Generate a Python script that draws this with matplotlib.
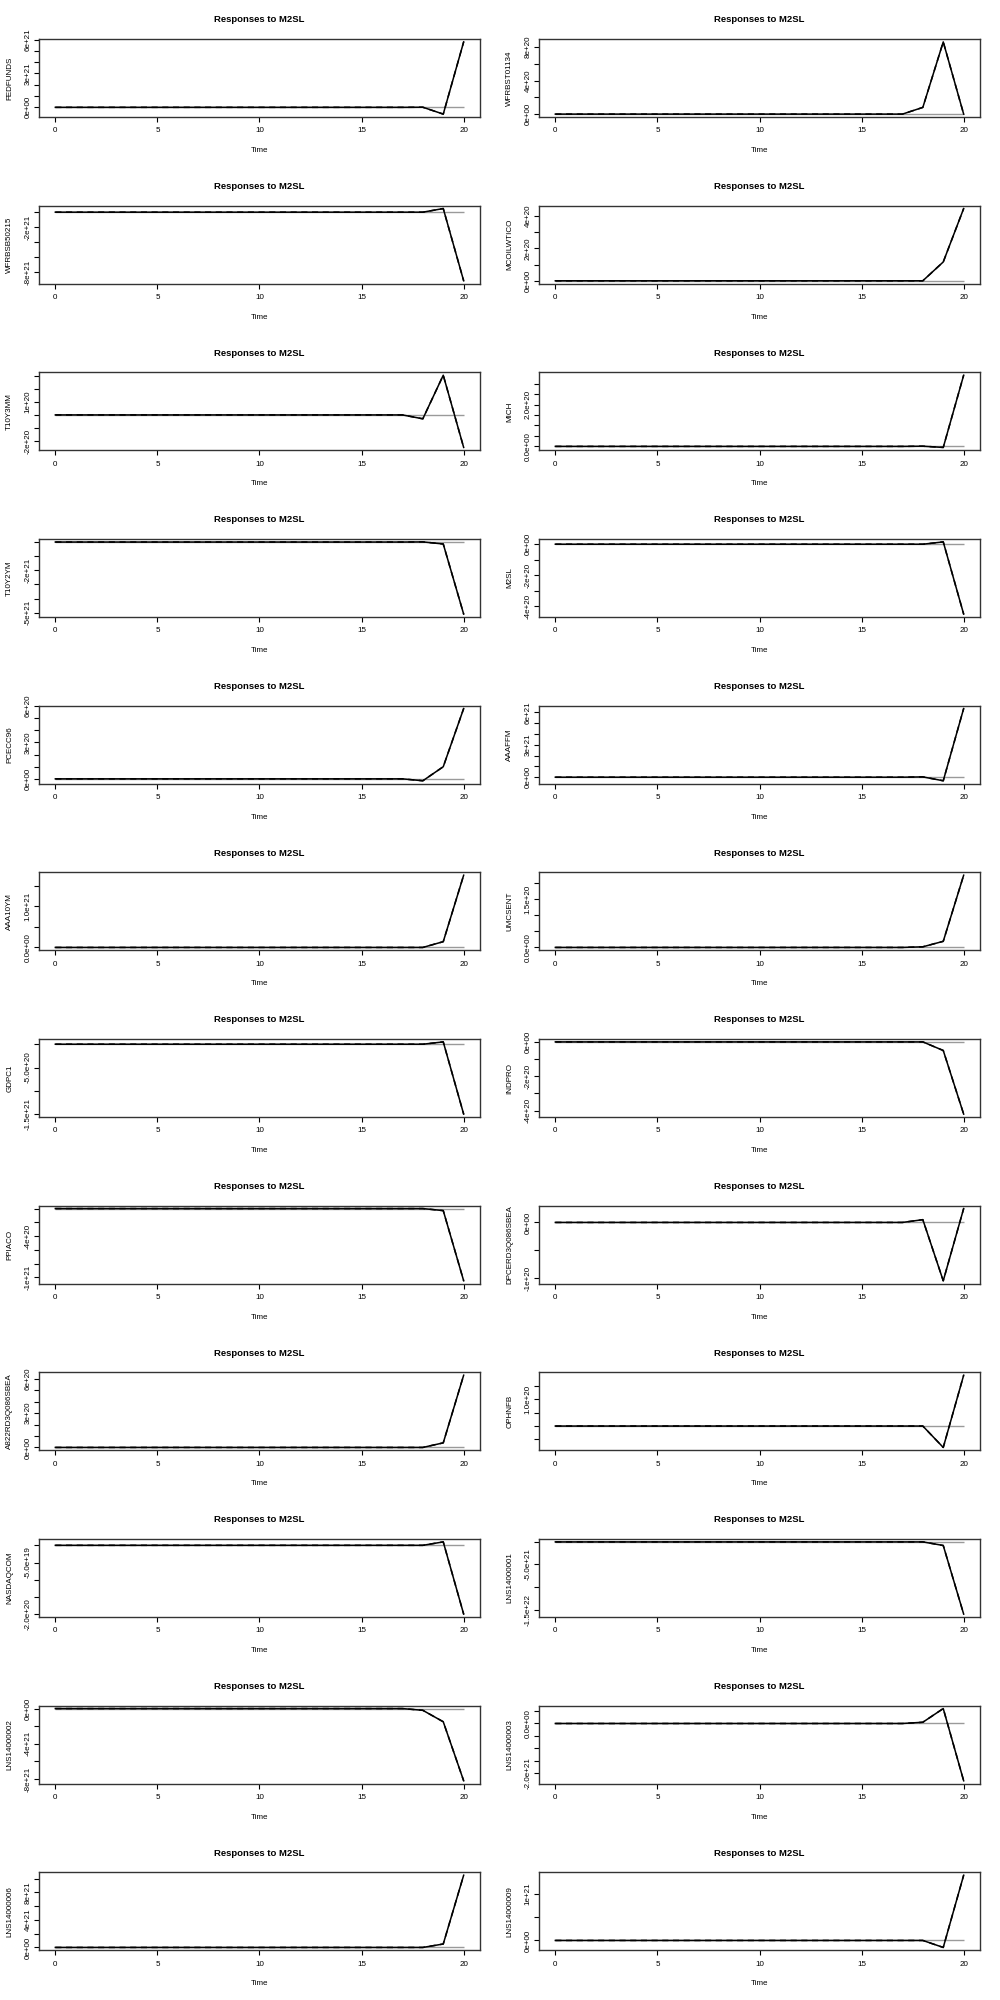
import matplotlib
matplotlib.use('Agg')
import matplotlib.pyplot as plt

plt.rcParams['font.family'] = ['Liberation Sans', 'DejaVu Sans']

# impulse responses to M2SL, horizon 0..20 (values in units of 1e20)
time = list(range(21))
FEDFUNDS = [0, 0, 0, 0, 0, 0, 0, 0, 0, 0, 0, 0, 0, 0, 0, 0, 0, 0, 0.1, -6.0, 58.0]
WFRBST01134 = [0, 0, 0, 0, 0, 0, 0, 0, 0, 0, 0, 0, 0, 0, 0, 0, 0, 0, 0.8, 8.6, 0.0]
WFRBSB50215 = [0, 0, 0, 0, 0, 0, 0, 0, 0, 0, 0, 0, 0, 0, 0, 0, 0, 0, 0.0, 4.8, -91.0]
MCOILWTICO = [0, 0, 0, 0, 0, 0, 0, 0, 0, 0, 0, 0, 0, 0, 0, 0, 0, 0, 0.0, 1.16, 4.45]
T10Y3MM = [0, 0, 0, 0, 0, 0, 0, 0, 0, 0, 0, 0, 0, 0, 0, 0, 0, 0, -0.3, 3.05, -2.5]
MICH = [0, 0, 0, 0, 0, 0, 0, 0, 0, 0, 0, 0, 0, 0, 0, 0, 0, 0, 0.01, -0.05, 3.4]
T10Y2YM = [0, 0, 0, 0, 0, 0, 0, 0, 0, 0, 0, 0, 0, 0, 0, 0, 0, 0, 0.1, -1.4, -51.0]
M2SL = [0, 0, 0, 0, 0, 0, 0, 0, 0, 0, 0, 0, 0, 0, 0, 0, 0, 0, 0.0, 0.15, -4.5]
PCECC96 = [0, 0, 0, 0, 0, 0, 0, 0, 0, 0, 0, 0, 0, 0, 0, 0, 0, 0, -0.16, 1.0, 5.8]
AAAFFM = [0, 0, 0, 0, 0, 0, 0, 0, 0, 0, 0, 0, 0, 0, 0, 0, 0, 0, 0.3, -3.3, 63.5]
AAA10YM = [0, 0, 0, 0, 0, 0, 0, 0, 0, 0, 0, 0, 0, 0, 0, 0, 0, 0, 0.0, 1.4, 17.5]
UMCSENT = [0, 0, 0, 0, 0, 0, 0, 0, 0, 0, 0, 0, 0, 0, 0, 0, 0, 0, 0.02, 0.19, 2.24]
GDPC1 = [0, 0, 0, 0, 0, 0, 0, 0, 0, 0, 0, 0, 0, 0, 0, 0, 0, 0, 0.0, 0.5, -15.0]
INDPRO = [0, 0, 0, 0, 0, 0, 0, 0, 0, 0, 0, 0, 0, 0, 0, 0, 0, 0, 0.0, -0.5, -4.2]
PPIACO = [0, 0, 0, 0, 0, 0, 0, 0, 0, 0, 0, 0, 0, 0, 0, 0, 0, 0, 0.0, -0.3, -10.5]
DPCERD3Q086SBEA = [0, 0, 0, 0, 0, 0, 0, 0, 0, 0, 0, 0, 0, 0, 0, 0, 0, 0, 0.05, -1.05, 0.25]
A822RD3Q086SBEA = [0, 0, 0, 0, 0, 0, 0, 0, 0, 0, 0, 0, 0, 0, 0, 0, 0, 0, 0.0, 0.4, 6.3]
OPHNFB = [0, 0, 0, 0, 0, 0, 0, 0, 0, 0, 0, 0, 0, 0, 0, 0, 0, 0, 0.0, -0.8, 1.9]
NASDAQCOM = [0, 0, 0, 0, 0, 0, 0, 0, 0, 0, 0, 0, 0, 0, 0, 0, 0, 0, 0.0, 0.1, -2.0]
LNS14000001 = [0, 0, 0, 0, 0, 0, 0, 0, 0, 0, 0, 0, 0, 0, 0, 0, 0, 0, 0.0, -8.0, -160.0]
LNS14000002 = [0, 0, 0, 0, 0, 0, 0, 0, 0, 0, 0, 0, 0, 0, 0, 0, 0, 0, -2.0, -15.0, -82.0]
LNS14000003 = [0, 0, 0, 0, 0, 0, 0, 0, 0, 0, 0, 0, 0, 0, 0, 0, 0, 0, 0.5, 6.0, -23.0]
LNS14000006 = [0, 0, 0, 0, 0, 0, 0, 0, 0, 0, 0, 0, 0, 0, 0, 0, 0, 0, 0.0, 5.0, 105.0]
LNS14000009 = [0, 0, 0, 0, 0, 0, 0, 0, 0, 0, 0, 0, 0, 0, 0, 0, 0, 0, 0.0, -1.5, 14.0]

names = ['FEDFUNDS', 'WFRBST01134', 'WFRBSB50215', 'MCOILWTICO', 'T10Y3MM', 'MICH',
         'T10Y2YM', 'M2SL', 'PCECC96', 'AAAFFM', 'AAA10YM', 'UMCSENT',
         'GDPC1', 'INDPRO', 'PPIACO', 'DPCERD3Q086SBEA', 'A822RD3Q086SBEA', 'OPHNFB',
         'NASDAQCOM', 'LNS14000001', 'LNS14000002', 'LNS14000003', 'LNS14000006', 'LNS14000009']
series = [FEDFUNDS, WFRBST01134, WFRBSB50215, MCOILWTICO, T10Y3MM, MICH,
          T10Y2YM, M2SL, PCECC96, AAAFFM, AAA10YM, UMCSENT,
          GDPC1, INDPRO, PPIACO, DPCERD3Q086SBEA, A822RD3Q086SBEA, OPHNFB,
          NASDAQCOM, LNS14000001, LNS14000002, LNS14000003, LNS14000006, LNS14000009]

# y ticks (units of 1e20) and their labels ('' = tick without label, as R drops them)
yticks = [
    ([0, 10, 20, 30, 40, 50, 60], ['0e+00', '', '', '3e+21', '', '', '6e+21']),
    ([0, 2, 4, 6, 8], ['0e+00', '', '4e+20', '', '8e+20']),
    ([0, -20, -40, -60, -80], ['', '-2e+21', '', '', '-8e+21']),
    ([0, 1, 2, 3, 4], ['0e+00', '', '2e+20', '', '4e+20']),
    ([-2, -1, 0, 1, 2, 3], ['-2e+20', '', '', '1e+20', '', '']),
    ([0, 0.5, 1, 1.5, 2, 2.5, 3], ['0.0e+00', '', '', '', '2.0e+20', '', '']),
    ([0, -10, -20, -30, -40, -50], ['', '', '-2e+21', '', '', '-5e+21']),
    ([0, -1, -2, -3, -4], ['0e+00', '', '-2e+20', '', '-4e+20']),
    ([0, 1, 2, 3, 4, 5, 6], ['0e+00', '', '', '3e+20', '', '', '6e+20']),
    ([0, 10, 20, 30, 40, 50, 60], ['0e+00', '', '', '3e+21', '', '', '6e+21']),
    ([0, 5, 10, 15], ['0.0e+00', '', '1.0e+21', '']),
    ([0, 0.5, 1, 1.5, 2], ['0.0e+00', '', '', '1.5e+20', '']),
    ([0, -5, -10, -15], ['', '-5.0e+20', '', '-1.5e+21']),
    ([0, -1, -2, -3, -4], ['0e+00', '', '-2e+20', '', '-4e+20']),
    ([0, -2, -4, -6, -8, -10], ['', '', '-4e+20', '', '', '-1e+21']),
    ([0, -0.5, -1], ['0e+00', '', '-1e+20']),
    ([0, 1, 2, 3, 4, 5, 6], ['0e+00', '', '', '3e+20', '', '', '6e+20']),
    ([-1, -0.5, 0, 0.5, 1, 1.5], ['-1.0e+20', '', '', '', '1.0e+20', '']),
    ([0, -0.5, -1, -1.5, -2], ['', '-5.0e+19', '', '', '-2.0e+20']),
    ([0, -50, -100, -150], ['', '-5.0e+21', '', '-1.5e+22']),
    ([0, -20, -40, -60, -80], ['0e+00', '', '-4e+21', '', '-8e+21']),
    ([5, 0, -5, -10, -15, -20], ['', '0.0e+00', '', '', '', '-2.0e+21']),
    ([0, 20, 40, 60, 80, 100], ['0e+00', '', '4e+21', '', '8e+21', '']),
    ([0, 5, 10], ['0e+00', '', '1e+21']),
]

fig = plt.figure(figsize=(10, 20), dpi=100)
row_h = 2000 / 12

for i, (name, vals) in enumerate(zip(names, series)):
    r, c = divmod(i, 2)
    left = 0.039 if c == 0 else 0.539
    top_px = r * row_h + 39
    ax = fig.add_axes([left, 1 - (top_px + 78) / 2000, 0.441, 78 / 2000])

    # zero reference line only spans the horizon, like the R plot
    ax.hlines(0, time[0], time[-1], color='#9a9a9a', lw=1.0, zorder=1)
    ax.plot(time, vals, color='black', lw=1.1, zorder=3)
    ax.plot(time, vals, color='black', lw=1.1, ls=(0, (4, 3)), zorder=4)

    lo, hi = min(vals), max(vals)
    pad = 0.04 * (hi - lo)
    ticks, labels = yticks[i]
    ax.set_yticks(ticks)
    ax.set_yticklabels(labels, rotation=90, va='center', fontsize=5.8)
    ax.set_ylim(lo - pad, hi + pad)
    ax.set_xlim(-0.8, 20.8)
    ax.set_xticks([0, 5, 10, 15, 20])
    ax.tick_params(axis='x', labelsize=5.8, length=3.5, width=0.8, pad=4)
    ax.tick_params(axis='y', length=3.5, width=0.8, pad=2)
    for s in ax.spines.values():
        s.set_color('#333333')
        s.set_linewidth(1.0)

    ax.set_title('Responses to M2SL', fontsize=6.8, fontweight='bold', pad=12)
    ax.set_xlabel('Time', fontsize=5.8, labelpad=9)
    ax.set_ylabel(name, fontsize=5.8, labelpad=8)

fig.savefig('out.png', dpi=100)
